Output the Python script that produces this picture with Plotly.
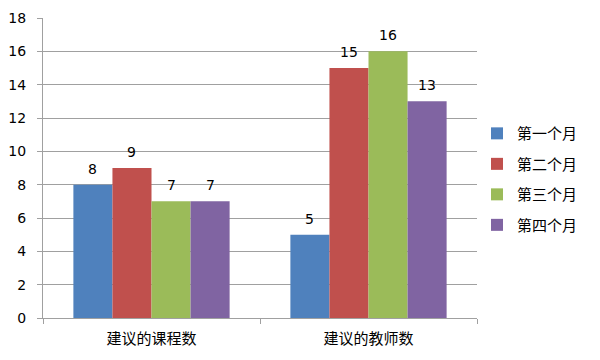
import plotly.graph_objects as go

categories = ["建议的课程数", "建议的教师数"]
series_names = ["第一个月", "第二个月", "第三个月", "第四个月"]
month1 = [8, 5]
month2 = [9, 15]
month3 = [7, 16]
month4 = [7, 13]
colors = ["#4F81BD", "#C0504D", "#9BBB59", "#8064A2"]
y_ticks = [0, 2, 4, 6, 8, 10, 12, 14, 16, 18]

font_family = "DejaVu Sans, Noto Sans CJK SC"
cjk = "Noto Sans CJK SC"
bargap = 0.28
all_series = [month1, month2, month3, month4]
n = len(all_series)
bar_w = (1 - bargap) / n

fig = go.Figure()
annotations = []
for i, (name, vals) in enumerate(zip(series_names, all_series)):
    fig.add_trace(go.Bar(
        x=categories, y=vals, name=name,
        marker=dict(color=colors[i], line=dict(width=0)),
        legendgroup=f"g{i}",
    ))
    offset = -(1 - bargap) / 2 + bar_w * (i + 0.5)
    for ci, v in enumerate(vals):
        annotations.append(dict(
            x=ci + offset, y=v, xref="x", yref="y", text=str(v),
            showarrow=False, yanchor="middle", yshift=16,
            font=dict(family=font_family, size=14, color="#000000"),
        ))

fig.update_layout(
    width=592, height=352,
    margin=dict(l=35, r=123, t=10, b=42),
    paper_bgcolor="white", plot_bgcolor="white",
    barmode="group", bargap=bargap, bargroupgap=0,
    font=dict(family=font_family, size=14, color="#000000"),
    legend=dict(x=1.0, y=0.463, yanchor="middle", xanchor="left",
                font=dict(family=cjk, size=15, color="#000000"),
                tracegroupgap=8, itemwidth=30),
    showlegend=True,
    annotations=annotations,
)
fig.update_xaxes(
    showline=True, linecolor="#A0A0A0", linewidth=1,
    ticks="outside", tickson="boundaries", ticklen=5, tickcolor="#A0A0A0",
    tickfont=dict(family=cjk, size=15, color="#000000"),
    showgrid=False, automargin=False, ticklabelstandoff=7,
)
fig.update_yaxes(
    range=[0, 18], tickvals=y_ticks, showline=True, linecolor="#A0A0A0",
    linewidth=1, ticks="outside", ticklen=5, tickcolor="#A0A0A0",
    showgrid=True, gridcolor="#A0A0A0", gridwidth=1, zeroline=False,
    tickfont=dict(family=font_family, size=14, color="#000000"),
    automargin=False, ticklabelstandoff=8,
)

fig.write_html("out.html")
